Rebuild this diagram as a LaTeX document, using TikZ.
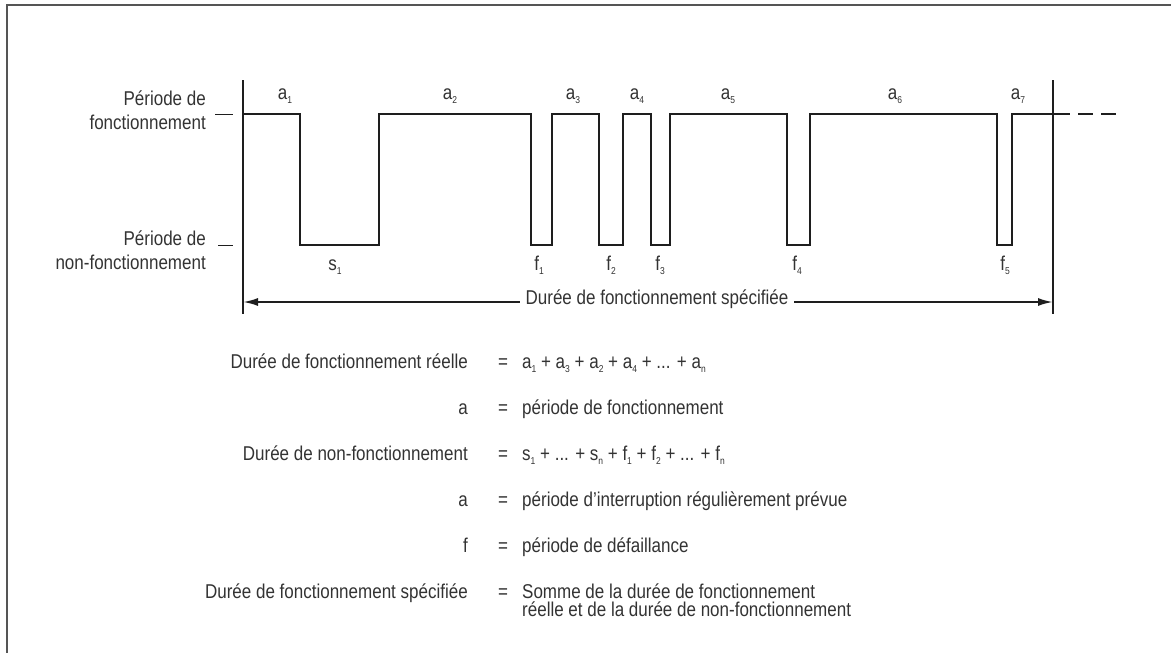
\documentclass[tikz,border=0pt]{standalone}
\usepackage{fontspec}
\setmainfont{Liberation Sans}[FakeStretch=0.85]
\usetikzlibrary{arrows.meta}
\definecolor{ink}{HTML}{1E1E1E}
\definecolor{txt}{HTML}{333333}
\definecolor{framec}{HTML}{555555}
\newcommand{\lsub}[1]{\raisebox{-0.4ex}{\fontsize{10}{10}\selectfont #1}}
\begin{document}
\begin{tikzpicture}[x=1pt,y=-1pt,
  every node/.style={font=\fontsize{20}{24}\selectfont, text=txt, inner sep=0pt},
  wave/.style={line width=2.6pt, draw=ink, line join=miter},
  axisline/.style={line width=1.3pt, draw=ink},
  framel/.style={line width=2pt, draw=framec},
  tickl/.style={line width=1pt, draw=ink},
  dimarrow/.style={line width=2pt, draw=ink, {Latex[length=15pt,width=8pt]}-{Latex[length=15pt,width=8pt]}},
  lbl/.style={anchor=mid},
  lefttxt/.style={anchor=mid east},
  righttxt/.style={anchor=mid west}]
\useasboundingbox (0,0) rectangle (1171,653);
% frame
\draw[framel] (7,653) -- (7,5) -- (1171,5);
% axes
\coordinate (axLtop) at (243,80);
\coordinate (axLbot) at (243,314);
\coordinate (axRtop) at (1053,80);
\coordinate (axRbot) at (1053,314);
\draw[axisline] (axLtop) -- (axLbot);
\draw[axisline] (axRtop) -- (axRbot);
% level ticks
\draw[tickl] (215,114) -- (233,114);
\draw[tickl] (218,245) -- (233,245);
% waveform
\draw[wave] (243,114) -- (300,114) -- (300,245) -- (379,245) -- (379,114)
  -- (531,114) -- (531,245) -- (552,245) -- (552,114)
  -- (599,114) -- (599,245) -- (623,245) -- (623,114)
  -- (651,114) -- (651,245) -- (670,245) -- (670,114)
  -- (787,114) -- (787,245) -- (810,245) -- (810,114)
  -- (997,114) -- (997,245) -- (1012,245) -- (1012,114) -- (1070,114);
\draw[line width=1.3pt, draw=ink, dash pattern=on 15pt off 8pt] (1078,114) -- (1120,114);
% level labels
\node[lefttxt] (lvh1) at (206,103) {Période de};
\node[lefttxt] (lvh2) at (206,127) {fonctionnement};
\node[lefttxt] (lvl1) at (206,243) {Période de};
\node[lefttxt] (lvl2) at (206,267) {non-fonctionnement};
% a labels
\node[lbl] (a1) at (285,97) {a\lsub{1}};
\node[lbl] (a2) at (450,97) {a\lsub{2}};
\node[lbl] (a3) at (573,97) {a\lsub{3}};
\node[lbl] (a4) at (637,97) {a\lsub{4}};
\node[lbl] (a5) at (728,97) {a\lsub{5}};
\node[lbl] (a6) at (895,97) {a\lsub{6}};
\node[lbl] (a7) at (1018,97) {a\lsub{7}};
% s, f labels
\node[lbl] (s1) at (335,268) {s\lsub{1}};
\node[lbl] (f1) at (539,268) {f\lsub{1}};
\node[lbl] (f2) at (611,268) {f\lsub{2}};
\node[lbl] (f3) at (660,268) {f\lsub{3}};
\node[lbl] (f4) at (797,268) {f\lsub{4}};
\node[lbl] (f5) at (1005,268) {f\lsub{5}};
% dimension arrow
\coordinate (dL) at (243,302);
\coordinate (dR) at (1053,302);
\draw[dimarrow] (dL) -- (dR);
\node[anchor=mid, fill=white, inner xsep=6pt, inner ysep=3pt] (dimtxt) at (657,302) {Durée de fonctionnement spécifiée};
% legend
\node[lefttxt] (l1) at (468,366) {Durée de fonctionnement réelle};
\node[lbl] (e1) at (503,366) {=};
\node[righttxt] (r1) at (522,366) {a\lsub{1} + a\lsub{3} + a\lsub{2} + a\lsub{4} + ... + a\lsub{n}};
\node[lefttxt] (l2) at (468,412) {a};
\node[lbl] (e2) at (503,412) {=};
\node[righttxt] (r2) at (522,412) {période de fonctionnement};
\node[lefttxt] (l3) at (468,458) {Durée de non-fonctionnement};
\node[lbl] (e3) at (503,458) {=};
\node[righttxt] (r3) at (522,458) {s\lsub{1} + ... + s\lsub{n} + f\lsub{1} + f\lsub{2} + ... + f\lsub{n}};
\node[lefttxt] (l4) at (468,504) {a};
\node[lbl] (e4) at (503,504) {=};
\node[righttxt] (r4) at (522,504) {période d'interruption régulièrement prévue};
\node[lefttxt] (l5) at (468,550) {f};
\node[lbl] (e5) at (503,550) {=};
\node[righttxt] (r5) at (522,550) {période de défaillance};
\node[lefttxt] (l6) at (468,596) {Durée de fonctionnement spécifiée};
\node[lbl] (e6) at (503,596) {=};
\node[righttxt] (r6a) at (522,596) {Somme de la durée de fonctionnement};
\node[righttxt] (r6b) at (522,614) {réelle et de la durée de non-fonctionnement};
\end{tikzpicture}
\end{document}
